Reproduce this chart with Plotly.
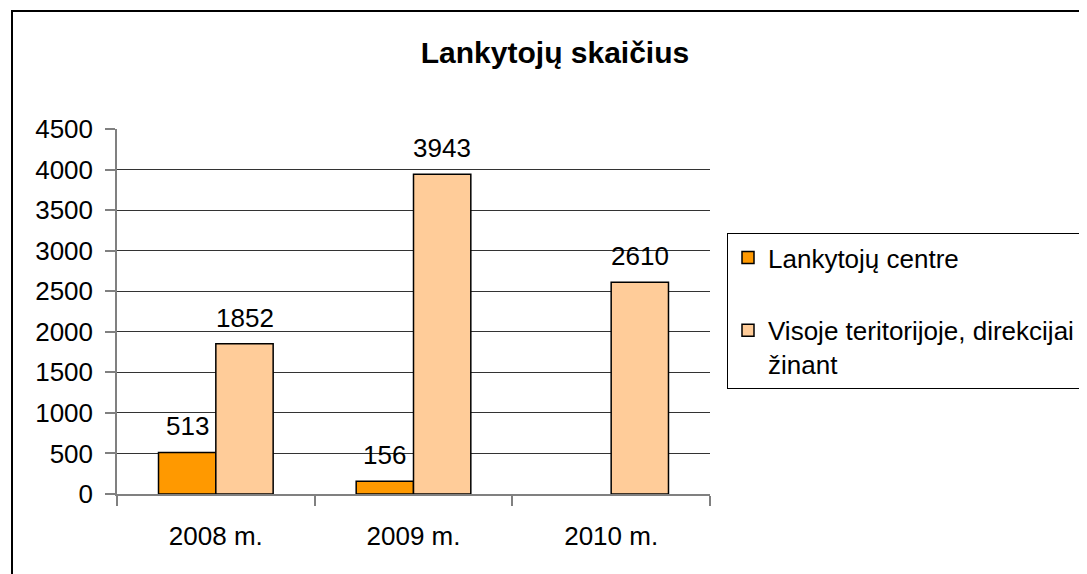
import plotly.graph_objects as go

categories = ["2008 m.", "2009 m.", "2010 m."]
series_names = ["Lankytojų centre", "Visoje teritorijoje, direkcijai<br>žinant"]
centre_values = [513, 156, None]
territory_values = [1852, 3943, 2610]
y_ticks = [0, 500, 1000, 1500, 2000, 2500, 3000, 3500, 4000, 4500]
title_text = "Lankytojų skaičius"

W, H = 1087, 574
OFF = 8  # page body margin
L, R, T, B = 117 - OFF, 710 - OFF, 129 - OFF, 494 - OFF
FONT = "Liberation Sans, Arial, sans-serif"
BARGAP = 0.42

fig = go.Figure()
fig.add_trace(go.Bar(
    x=categories, y=centre_values, name=series_names[0],
    marker=dict(color="#FF9900", line=dict(color="black", width=1.5)),
    legendgroup="a",
))
fig.add_trace(go.Bar(
    x=categories, y=territory_values, name=series_names[1],
    marker=dict(color="#FFCC99", line=dict(color="black", width=1.5)),
    legendgroup="b",
))

# data labels above the bars
half = (1 - BARGAP) / 4
for series, shift in ((centre_values, -half), (territory_values, half)):
    for i, v in enumerate(series):
        if v is None:
            continue
        fig.add_annotation(x=i + shift, y=v, xref="x", yref="y", text=str(v),
                           showarrow=False, yanchor="bottom", yshift=9,
                           font=dict(size=26, color="black", family=FONT))

pw = R - L
ph = B - T
fig.update_layout(
    width=W, height=H,
    margin=dict(l=L, r=W - R, t=T, b=H - B, pad=0, autoexpand=False),
    paper_bgcolor="white", plot_bgcolor="white",
    font=dict(family=FONT, size=26, color="black"),
    barmode="group", bargap=BARGAP, bargroupgap=0,
    title=dict(text="<b>" + title_text + "</b>", x=(555 - OFF) / W, xanchor="center",
               y=1 - (52 - OFF) / H, yanchor="middle", xref="container", yref="container",
               font=dict(size=30, family=FONT, color="black")),
    showlegend=True,
    legend=dict(
        x=(727 - OFF - L) / pw, y=(B - (233 - OFF)) / ph, xanchor="left", yanchor="top",
        bgcolor="white", bordercolor="black", borderwidth=1,
        font=dict(size=26, family=FONT, color="black"),
        traceorder="grouped", tracegroupgap=36, valign="top",
    ),
)
fig.update_xaxes(
    type="category", showline=True, linecolor="#808080", linewidth=1.5,
    ticks="outside", tickson="boundaries", ticklen=10, tickcolor="#808080", tickwidth=1.5,
    showgrid=False, tickfont=dict(size=26), ticklabelstandoff=18,
)
fig.update_yaxes(
    range=[0, 4500], tickvals=y_ticks, showline=True, linecolor="#808080", linewidth=1.5,
    ticks="outside", ticklen=10, tickcolor="#808080", tickwidth=1.5,
    showgrid=True, gridcolor="#333333", gridwidth=1, zeroline=False,
    tickfont=dict(size=26), ticklabelstandoff=7,
)
fig.add_shape(type="rect", xref="paper", yref="paper",
              x0=(12 - OFF - L) / pw, x1=2.0, y0=-1.0, y1=(B - (11 - OFF)) / ph,
              line=dict(color="black", width=2), fillcolor="rgba(0,0,0,0)", layer="above")
fig.write_html("out.html")
